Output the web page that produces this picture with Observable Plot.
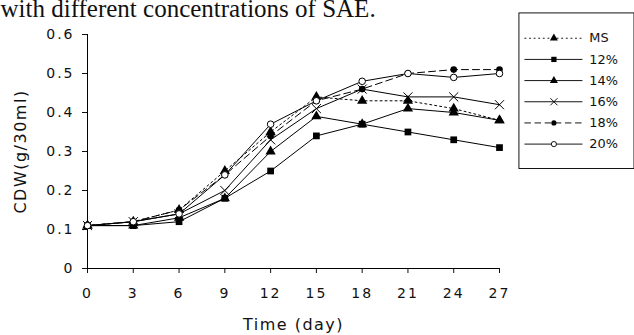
<!DOCTYPE html>
<html>
<head>
<meta charset="utf-8">
<script src="https://cdn.jsdelivr.net/npm/d3@7"></script>
<script src="https://cdn.jsdelivr.net/npm/@observablehq/plot@0.6"></script>
<style>
  body { margin: 0; background: white; overflow: hidden; }
  #wrap { position: relative; width: 634px; height: 335px; overflow: hidden; }
  #legend { position: absolute; left: 518px; top: 12px; }
</style>
</head>
<body>
<div id="wrap"><div id="main"></div><div id="legend"></div></div>
<script>
// ---- data ----
const days = [0, 3, 6, 9, 12, 15, 18, 21, 24, 27];
const yTicks = [0, 0.1, 0.2, 0.3, 0.4, 0.5, 0.6];
const seriesNames = ["MS", "12%", "14%", "16%", "18%", "20%"];
const msValues  = [0.11, 0.12, 0.15, 0.25, 0.35, 0.44, 0.43, 0.43, 0.41, 0.38];
const c12Values = [0.11, 0.11, 0.12, 0.18, 0.25, 0.34, 0.37, 0.35, 0.33, 0.31];
const c14Values = [0.11, 0.11, 0.13, 0.18, 0.30, 0.39, 0.37, 0.41, 0.40, 0.38];
const c16Values = [0.11, 0.12, 0.14, 0.20, 0.33, 0.41, 0.46, 0.44, 0.44, 0.42];
const c18Values = [0.11, 0.12, 0.15, 0.24, 0.34, 0.43, 0.46, 0.50, 0.51, 0.51];
const c20Values = [0.11, 0.12, 0.14, 0.24, 0.37, 0.43, 0.48, 0.50, 0.49, 0.50];
const titleText = "with different concentrations of SAE.";
const xLabel = "Time (day)";
const yLabel = "CDW(g/30ml)";

const valuesBySeries = {
  "MS": msValues, "12%": c12Values, "14%": c14Values,
  "16%": c16Values, "18%": c18Values, "20%": c20Values
};

// ---- styles ----
const styles = {
  "MS":  {dash: "2,3", symbol: "triangle", fill: "black", stroke: "none", r: 3.8},
  "12%": {dash: null,  symbol: "square",   fill: "black", stroke: "none", r: 3.8},
  "14%": {dash: null,  symbol: "triangle", fill: "black", stroke: "none", r: 3.8},
  "16%": {dash: null,  symbol: "times",    fill: "none",  stroke: "black", r: 4.2},
  "18%": {dash: "7,4", symbol: "circle",   fill: "black", stroke: "none", r: 3.3},
  "20%": {dash: null,  symbol: "circle",   fill: "white", stroke: "black", r: 3.3}
};

const rows = seriesNames.map(s => ({
  s, data: days.map((d, i) => ({day: d, v: valuesBySeries[s][i], s}))
}));

const lineMarks = rows.map(({s, data}) =>
  Plot.line(data, {x: "day", y: "v", stroke: "black", strokeWidth: 1,
    strokeDasharray: styles[s].dash || undefined}));
const dotMarks = rows.map(({s, data}) =>
  Plot.dot(data, {x: "day", y: "v", symbol: () => styles[s].symbol,
    fill: styles[s].fill, stroke: styles[s].stroke, strokeWidth: 1, r: styles[s].r}));

const main = Plot.plot({
  width: 634, height: 335,
  marginLeft: 87, marginRight: 135, marginTop: 34, marginBottom: 67,
  style: {fontFamily: "DejaVu Sans", fontSize: "14px", color: "#111", background: "white"},
  symbol: {type: "identity"},
  x: {domain: [0, 27]},
  y: {domain: [0, 0.6]},
  marks: [
    Plot.axisX({ticks: days, tickSize: 5, tickPadding: 15, label: null, tickFormat: d => String(d)}),
    Plot.axisY({ticks: yTicks, tickSize: 5, tickPadding: 8, label: null,
      tickFormat: d => d === 0 ? "0" : d.toFixed(1)}),
    Plot.ruleY([0], {stroke: "black"}),
    Plot.ruleX([0], {stroke: "black"}),
    ...lineMarks,
    ...dotMarks,
    Plot.text([xLabel], {frameAnchor: "bottom", dy: 61, fontSize: 16, text: d => d}),
    Plot.text([yLabel], {frameAnchor: "left", dx: -67, rotate: -90, textAnchor: "middle",
      fontSize: 16, text: d => d}),
    Plot.text([titleText], {frameAnchor: "top-left", dx: -87, dy: -26, textAnchor: "start",
      lineAnchor: "middle", fontFamily: "Liberation Serif", fontSize: 25, text: d => d, fill: "#111"})
  ]
});
d3.select(main).selectAll("text").each(function() {
  const t = this.textContent;
  let ls = "2px";
  if (t === xLabel || t === yLabel) ls = "1.5px";
  if (t === titleText) ls = "0px";
  this.style.letterSpacing = ls;
});
document.getElementById("main").appendChild(main);

// ---- legend ----
const legend = Plot.plot({
  width: 126, height: 170, margin: 0,
  style: {fontFamily: "DejaVu Sans", fontSize: "14px", color: "#111", background: "white"},
  symbol: {type: "identity"},
  x: {domain: [0, 1], range: [7, 70], axis: null},
  y: {domain: seriesNames, type: "point", range: [14, 157], axis: null},
  marks: [
    Plot.frame({stroke: "black", inset: 0.5}),
    ...seriesNames.map(s => Plot.ruleY([s], {y: d => d, x1: 0, x2: 1, stroke: "black", strokeWidth: 1,
      strokeDasharray: styles[s].dash || undefined})),
    ...seriesNames.map(s => Plot.dot([s], {x: () => 0.5, y: d => d, symbol: () => styles[s].symbol,
      fill: styles[s].fill, stroke: styles[s].stroke, strokeWidth: 1, r: styles[s].r * 0.85})),
    Plot.text(seriesNames, {x: () => 1, y: d => d, text: d => d, dx: 7, textAnchor: "start", fill: "#111"})
  ]
});
document.getElementById("legend").appendChild(legend);
</script>
</body>
</html>
